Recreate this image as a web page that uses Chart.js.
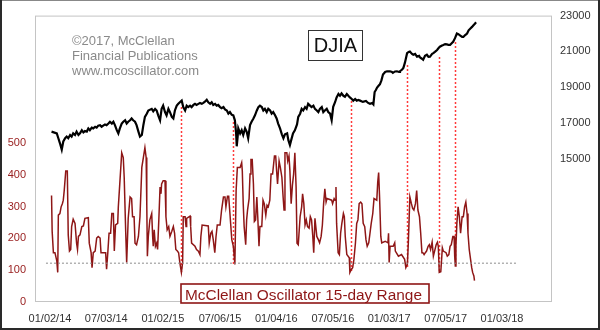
<!DOCTYPE html>
<html>
<head>
<meta charset="utf-8">
<title>DJIA and McClellan Oscillator 15-day Range</title>
<script src="https://cdn.jsdelivr.net/npm/chart.js@4/dist/chart.umd.min.js"></script>
<style>
  html, body { margin: 0; padding: 0; background: #fff; }
  #wrap { width: 600px; height: 330px; }
  canvas { display: block; }
</style>
</head>
<body>
<div id="wrap"><canvas id="chart" width="600" height="330"></canvas></div>
<script>
// Dates on the x axis (MM/DD/YY); data x-values are calendar days since 01/02/14.
const tickLabels = ['01/02/14', '07/03/14', '01/02/15', '07/06/15', '01/04/16',
                    '07/05/16', '01/03/17', '07/05/17', '01/03/18'];
const djiaTicks = [15000, 17000, 19000, 21000, 23000];
const oscTicks = [0, 100, 200, 300, 400, 500];

// Dow Jones Industrial Average
const djiaDays = [
  5, 22, 27, 32, 38, 43, 49, 54, 59, 65,
  70, 75, 81, 86, 92, 97, 103, 108, 113, 119,
  124, 129, 135, 140, 146, 151, 156, 162, 167, 172,
  178, 183, 189, 194, 200, 205, 210, 216, 221, 226,
  232, 237, 243, 248, 253, 259, 264, 269, 275, 280,
  286, 291, 297, 302, 307, 313, 318, 329, 334, 340,
  345, 350, 356, 361, 366, 372, 377, 383, 388, 394,
  399, 404, 410, 415, 420, 426, 431, 437, 442, 447,
  453, 458, 464, 469, 474, 480, 485, 491, 496, 501,
  507, 512, 518, 523, 528, 534, 539, 544, 550, 555,
  561, 566, 572, 577, 582, 588, 593, 598, 602, 604,
  607, 609, 615, 620, 625, 631, 636, 641, 647, 652,
  658, 663, 669, 674, 679, 685, 690, 695, 701, 706,
  712, 717, 722, 728, 733, 738, 744, 750, 755, 760,
  767, 771, 776, 781, 786, 792, 799, 803, 809, 814,
  819, 825, 830, 835, 841, 846, 852, 857, 863, 868,
  873, 879, 884, 889, 895, 900, 906, 911, 916, 922,
  927, 933, 938, 943, 949, 954, 960, 965, 970, 976,
  981, 987, 992, 997, 1003, 1012, 1022, 1029, 1035, 1042,
  1046, 1050, 1054, 1058, 1064, 1067, 1072, 1077, 1084, 1090,
  1097, 1100, 1106, 1109, 1116, 1122, 1129, 1132, 1139, 1143,
  1148, 1155, 1160, 1164, 1171, 1175, 1181, 1187, 1194, 1197,
  1203, 1207, 1213, 1219, 1224, 1229, 1236, 1240, 1245, 1252,
  1257, 1261, 1268, 1272, 1278, 1284, 1289, 1294, 1300, 1304,
  1310, 1316, 1321, 1326, 1333, 1337, 1342, 1349, 1354, 1359,
  1365, 1369, 1375, 1378
];
const djiaValues = [
  16520, 16420, 16150, 15880, 15510, 15970, 16150, 16240, 16150, 16330,
  16240, 16420, 16330, 16520, 16330, 16420, 16600, 16480, 16550, 16520,
  16700, 16600, 16740, 16700, 16790, 16740, 16850, 16880, 16790, 16850,
  16920, 16880, 16970, 17070, 16970, 17070, 16880, 16600, 16420, 16700,
  16970, 17070, 17150, 16970, 17070, 17150, 17250, 17150, 17070, 16880,
  16520, 16240, 16330, 16880, 17340, 17520, 17700, 17790, 17650, 17790,
  17700, 17430, 17150, 17790, 17970, 17610, 17430, 17790, 17610, 17340,
  17250, 17700, 17970, 18070, 18160, 18250, 17890, 17700, 17970, 17890,
  17970, 17890, 18010, 18070, 18010, 18070, 18120, 18070, 18120, 18190,
  18300, 18160, 18070, 18160, 18010, 18070, 17970, 18010, 17890, 17830,
  17890, 17760, 17700, 17520, 17610, 17460, 17430, 17150, 16420, 15700,
  16240, 16700, 16420, 16600, 16330, 16700, 16520, 16150, 16880, 17070,
  17250, 17430, 17700, 17890, 17970, 17890, 17700, 17790, 17610, 17790,
  17700, 17520, 17610, 17430, 17250, 16970, 16700, 16370, 16150, 16370,
  16420, 16040, 15770, 16100, 16420, 16590, 16920, 17340, 17520, 17790,
  17700, 17890, 17790, 18070, 17970, 17890, 17970, 17790, 17700, 17610,
  17790, 17890, 17610, 17700, 17790, 17610, 17520, 17160, 17900, 18160,
  18430, 18620, 18520, 18650, 18520, 18470, 18620, 18520, 18430, 18340,
  18250, 18340, 18250, 18290, 18250, 18180, 18230, 18120, 18070, 18120,
  18040, 18730, 18840, 18980, 19110, 19160, 19380, 19710, 19850, 19890,
  19880, 19890, 19850, 19800, 19880, 19890, 19850, 19890, 19990, 20080,
  20370, 20900, 20970, 20990, 20860, 20810, 20860, 20710, 20750, 20660,
  20590, 20530, 20750, 20810, 20700, 20710, 20860, 20900, 20970, 21080,
  21190, 21260, 21330, 21360, 21410, 21390, 21360, 21360, 21470, 21540,
  21740, 22000, 21960, 21900, 21810, 21810, 21900, 22000, 22180, 22270,
  22370, 22450, 22560, 22630
];

// McClellan Oscillator 15-day range
const oscDays = [
  5, 7, 11, 16, 22, 25, 27, 32, 36, 40,
  43, 46, 51, 56, 59, 63, 67, 70, 75, 81,
  86, 89, 92, 97, 103, 108, 113, 124, 127, 133,
  136, 140, 146, 151, 156, 162, 165, 180, 183, 187,
  191, 196, 200, 205, 208, 212, 219, 221, 226, 232,
  237, 240, 245, 248, 253, 259, 264, 267, 272, 275,
  280, 286, 291, 297, 302, 307, 311, 313, 315, 318,
  323, 329, 332, 334, 337, 341, 345, 348, 352, 356,
  359, 361, 366, 372, 375, 379, 384, 388, 394, 399,
  403, 407, 412, 416, 420, 425, 429, 431, 437, 440,
  442, 453, 455, 458, 469, 474, 480, 485, 488, 492,
  512, 515, 520, 524, 528, 533, 537, 541, 550, 555,
  561, 566, 569, 574, 578, 582, 588, 593, 598, 602,
  606, 615, 620, 622, 625, 628, 633, 636, 639, 644,
  647, 650, 654, 658, 661, 665, 669, 672, 676, 679,
  685, 689, 693, 698, 702, 706, 711, 715, 720, 726,
  730, 733, 736, 741, 745, 750, 754, 757, 760, 766,
  769, 773, 776, 780, 784, 788, 792, 796, 799, 803,
  809, 814, 817, 821, 825, 829, 833, 838, 842, 846,
  850, 853, 857, 863, 868, 872, 877, 881, 885, 889,
  893, 896, 911, 914, 919, 922, 925, 927, 932, 936,
  940, 944, 949, 952, 955, 960, 968, 970, 975, 979,
  983, 988, 992, 996, 1000, 1005, 1009, 1013, 1018, 1022,
  1026, 1031, 1035, 1039, 1044, 1048, 1057, 1060, 1063, 1066,
  1070, 1073, 1084, 1093, 1095, 1097, 1100, 1110, 1115, 1117,
  1127, 1137, 1147, 1151, 1156, 1159, 1164, 1169, 1173, 1177,
  1182, 1186, 1190, 1195, 1199, 1203, 1206, 1210, 1214, 1218,
  1223, 1227, 1231, 1236, 1240, 1244, 1249, 1253, 1256, 1259,
  1264, 1266, 1269, 1272, 1281, 1285, 1290, 1294, 1298, 1303,
  1307, 1309, 1311, 1313, 1316, 1320, 1324, 1328, 1333, 1337,
  1341, 1345, 1349, 1352, 1356, 1361, 1364, 1367, 1371, 1373
];
const oscValues = [
  335, 222, 155, 155, 129, 93, 273, 278, 299, 309,
  320, 350, 412, 412, 211, 160, 165, 237, 260, 247,
  185, 165, 206, 211, 237, 239, 263, 265, 185, 155,
  108, 155, 160, 201, 206, 201, 155, 155, 103, 155,
  216, 216, 278, 278, 160, 242, 247, 299, 376, 469,
  454, 392, 216, 124, 263, 330, 325, 268, 268, 185,
  180, 206, 268, 423, 454, 485, 454, 309, 144, 206,
  258, 278, 206, 175, 227, 175, 185, 165, 258, 361,
  340, 371, 381, 381, 268, 227, 237, 206, 222, 237,
  216, 165, 160, 155, 124, 93, 124, 268, 268, 237,
  263, 270, 237, 185, 175, 165, 160, 149, 206, 242,
  239, 185, 216, 222, 196, 155, 206, 242, 242, 289,
  330, 330, 299, 332, 332, 278, 196, 175, 118, 350,
  423, 423, 438, 412, 309, 237, 180, 258, 289, 325,
  402, 448, 448, 371, 253, 258, 330, 268, 175, 237,
  237, 320, 309, 273, 304, 299, 320, 402, 402, 459,
  459, 412, 371, 443, 423, 392, 330, 289, 469, 469,
  443, 459, 412, 309, 366, 402, 469, 361, 185, 180,
  268, 299, 340, 309, 242, 258, 237, 232, 268, 258,
  206, 155, 263, 206, 196, 186, 206, 242, 309, 356,
  314, 325, 320, 309, 325, 320, 361, 247, 155, 149,
  216, 247, 278, 268, 206, 149, 139, 93, 103, 108,
  134, 186, 247, 258, 309, 314, 309, 247, 237, 196,
  175, 186, 216, 247, 278, 325, 320, 376, 407, 330,
  206, 186, 191, 186, 216, 124, 175, 175, 186, 160,
  144, 149, 134, 108, 119, 186, 330, 309, 294, 289,
  309, 350, 289, 268, 216, 155, 155, 149, 155, 160,
  175, 180, 165, 188, 144, 160, 180, 188, 175, 93,
  95, 124, 170, 160, 155, 144, 149, 175, 180, 206,
  206, 144, 113, 175, 247, 299, 268, 216, 268, 268,
  299, 314, 278, 216, 165, 129, 108, 93, 82, 67
];

// Reference level for the oscillator range
const oscThreshold = 122;
const thresholdDays = [-13, 1510];

// Oscillator range lows, tied up to the DJIA with dotted markers
const lowDays = [424, 591, 973, 1154, 1258, 1309];
const lowOsc = [93, 118, 93, 108, 93, 113];
const lowDjia = [17890, 17070, 18250, 20260, 20710, 21540];

const FONT = "'Liberation Sans', Arial, Helvetica, sans-serif";
const DARK_RED = '#8e1616';

function dayOf(label) {
  const [m, d, y] = label.split('/').map(Number);
  return Math.round((Date.UTC(2000 + y, m - 1, d) - Date.UTC(2014, 0, 2)) / 864e5);
}
const tickDays = tickLabels.map(dayOf);

const toPoints = (xs, ys) => xs.map((x, i) => ({ x, y: ys[i] }));

const decorations = {
  id: 'decorations',
  beforeDraw(chart) {
    const ctx = chart.ctx;
    ctx.save();
    ctx.fillStyle = '#ffffff';
    ctx.fillRect(0, 0, chart.width, chart.height);
    ctx.restore();
  },
  beforeDatasetsDraw(chart) {
    const { ctx, scales } = chart;
    const x = scales.x, yL = scales.yL, yR = scales.yR;
    ctx.save();
    ctx.strokeStyle = '#ff3b3b';
    ctx.lineWidth = 1.5;
    ctx.setLineDash([2, 2]);
    lowDays.forEach((d, i) => {
      const px = Math.round(x.getPixelForValue(d)) + 0.5;
      ctx.beginPath();
      ctx.moveTo(px, Math.round(yR.getPixelForValue(lowDjia[i])));
      ctx.lineTo(px, Math.round(yL.getPixelForValue(lowOsc[i])));
      ctx.stroke();
    });
    ctx.restore();
  },
  afterDraw(chart) {
    const { ctx, chartArea: a } = chart;
    ctx.save();

    // plot frame
    ctx.strokeStyle = '#c4c4c4';
    ctx.lineWidth = 1;
    ctx.strokeRect(a.left + 0.5, a.top + 0.5, a.right - a.left - 1, a.bottom - a.top - 1);

    // copyright note
    ctx.fillStyle = '#8a8a8a';
    ctx.font = '13px ' + FONT;
    ctx.textAlign = 'left';
    ctx.textBaseline = 'alphabetic';
    ctx.fillText('\u00A92017, McClellan', 72, 45);
    ctx.fillText('Financial Publications', 72, 60);
    ctx.fillText('www.mcoscillator.com', 72, 75);

    // DJIA tag
    ctx.fillStyle = '#ffffff';
    ctx.fillRect(308, 30, 54, 30);
    ctx.strokeStyle = '#333333';
    ctx.strokeRect(308.5, 30.5, 54, 30);
    ctx.fillStyle = '#111111';
    ctx.font = '20px ' + FONT;
    ctx.textAlign = 'center';
    ctx.fillText('DJIA', 335.5, 52);

    // oscillator tag
    ctx.fillStyle = '#ffffff';
    ctx.fillRect(181, 284, 248, 19);
    ctx.strokeStyle = DARK_RED;
    ctx.lineWidth = 1.6;
    ctx.strokeRect(181, 284, 248, 19);
    ctx.fillStyle = DARK_RED;
    ctx.font = '15.4px ' + FONT;
    ctx.textAlign = 'left';
    ctx.fillText('McClellan Oscillator 15-day Range', 185, 300);

    // outer frame
    ctx.fillStyle = '#888888';
    ctx.fillRect(0, 0, 600, 1);
    ctx.fillStyle = '#2a2a2a';
    ctx.fillRect(0, 0, 2, 330);
    ctx.fillRect(598, 0, 2, 330);
    ctx.fillRect(0, 328, 600, 2);
    ctx.restore();
  }
};

new Chart(document.getElementById('chart'), {
  type: 'line',
  data: {
    datasets: [
      {
        label: 'Threshold',
        data: toPoints(thresholdDays, [oscThreshold, oscThreshold]),
        yAxisID: 'yL',
        borderColor: '#8c8c8c',
        borderWidth: 1,
        borderDash: [2, 2],
        pointRadius: 0
      },
      {
        label: 'McClellan Oscillator 15-day Range',
        data: toPoints(oscDays, oscValues),
        yAxisID: 'yL',
        borderColor: DARK_RED,
        borderWidth: 1.5,
        pointRadius: 0,
        tension: 0
      },
      {
        label: 'DJIA',
        data: toPoints(djiaDays, djiaValues),
        yAxisID: 'yR',
        borderColor: '#000000',
        borderWidth: 2.2,
        pointRadius: 0,
        tension: 0
      }
    ]
  },
  options: {
    responsive: false,
    animation: false,
    devicePixelRatio: 1,
    layout: { padding: { top: 10, left: 0, right: 0, bottom: 0 } },
    plugins: { legend: { display: false }, tooltip: { enabled: false } },
    scales: {
      x: {
        type: 'linear',
        min: -48.5,
        max: 1623.7,
        grid: { display: false, drawTicks: false },
        border: { display: false },
        afterBuildTicks: s => { s.ticks = tickDays.map(v => ({ value: v })); },
        afterFit: s => { s.height = 28; },
        ticks: {
          autoSkip: false,
          maxRotation: 0,
          padding: 10,
          color: '#333333',
          font: { family: FONT, size: 11 },
          callback: (v, i) => tickLabels[i]
        }
      },
      yL: {
        type: 'linear',
        position: 'left',
        min: 0,
        max: 900,
        grid: { display: false, drawTicks: false },
        border: { display: false },
        afterBuildTicks: s => { s.ticks = oscTicks.map(v => ({ value: v })); },
        afterFit: s => { s.width = 35; },
        ticks: {
          padding: 9,
          color: '#9a2222',
          font: { family: FONT, size: 11 },
          callback: v => String(v)
        }
      },
      yR: {
        type: 'linear',
        position: 'right',
        min: 7000,
        max: 23000,
        grid: { display: false, drawTicks: false },
        border: { display: false },
        afterBuildTicks: s => { s.ticks = djiaTicks.map(v => ({ value: v })); },
        afterFit: s => { s.width = 48; },
        ticks: {
          padding: 8,
          color: '#333333',
          font: { family: FONT, size: 11 },
          callback: v => String(v)
        }
      }
    }
  },
  plugins: [decorations]
});
</script>
</body>
</html>
